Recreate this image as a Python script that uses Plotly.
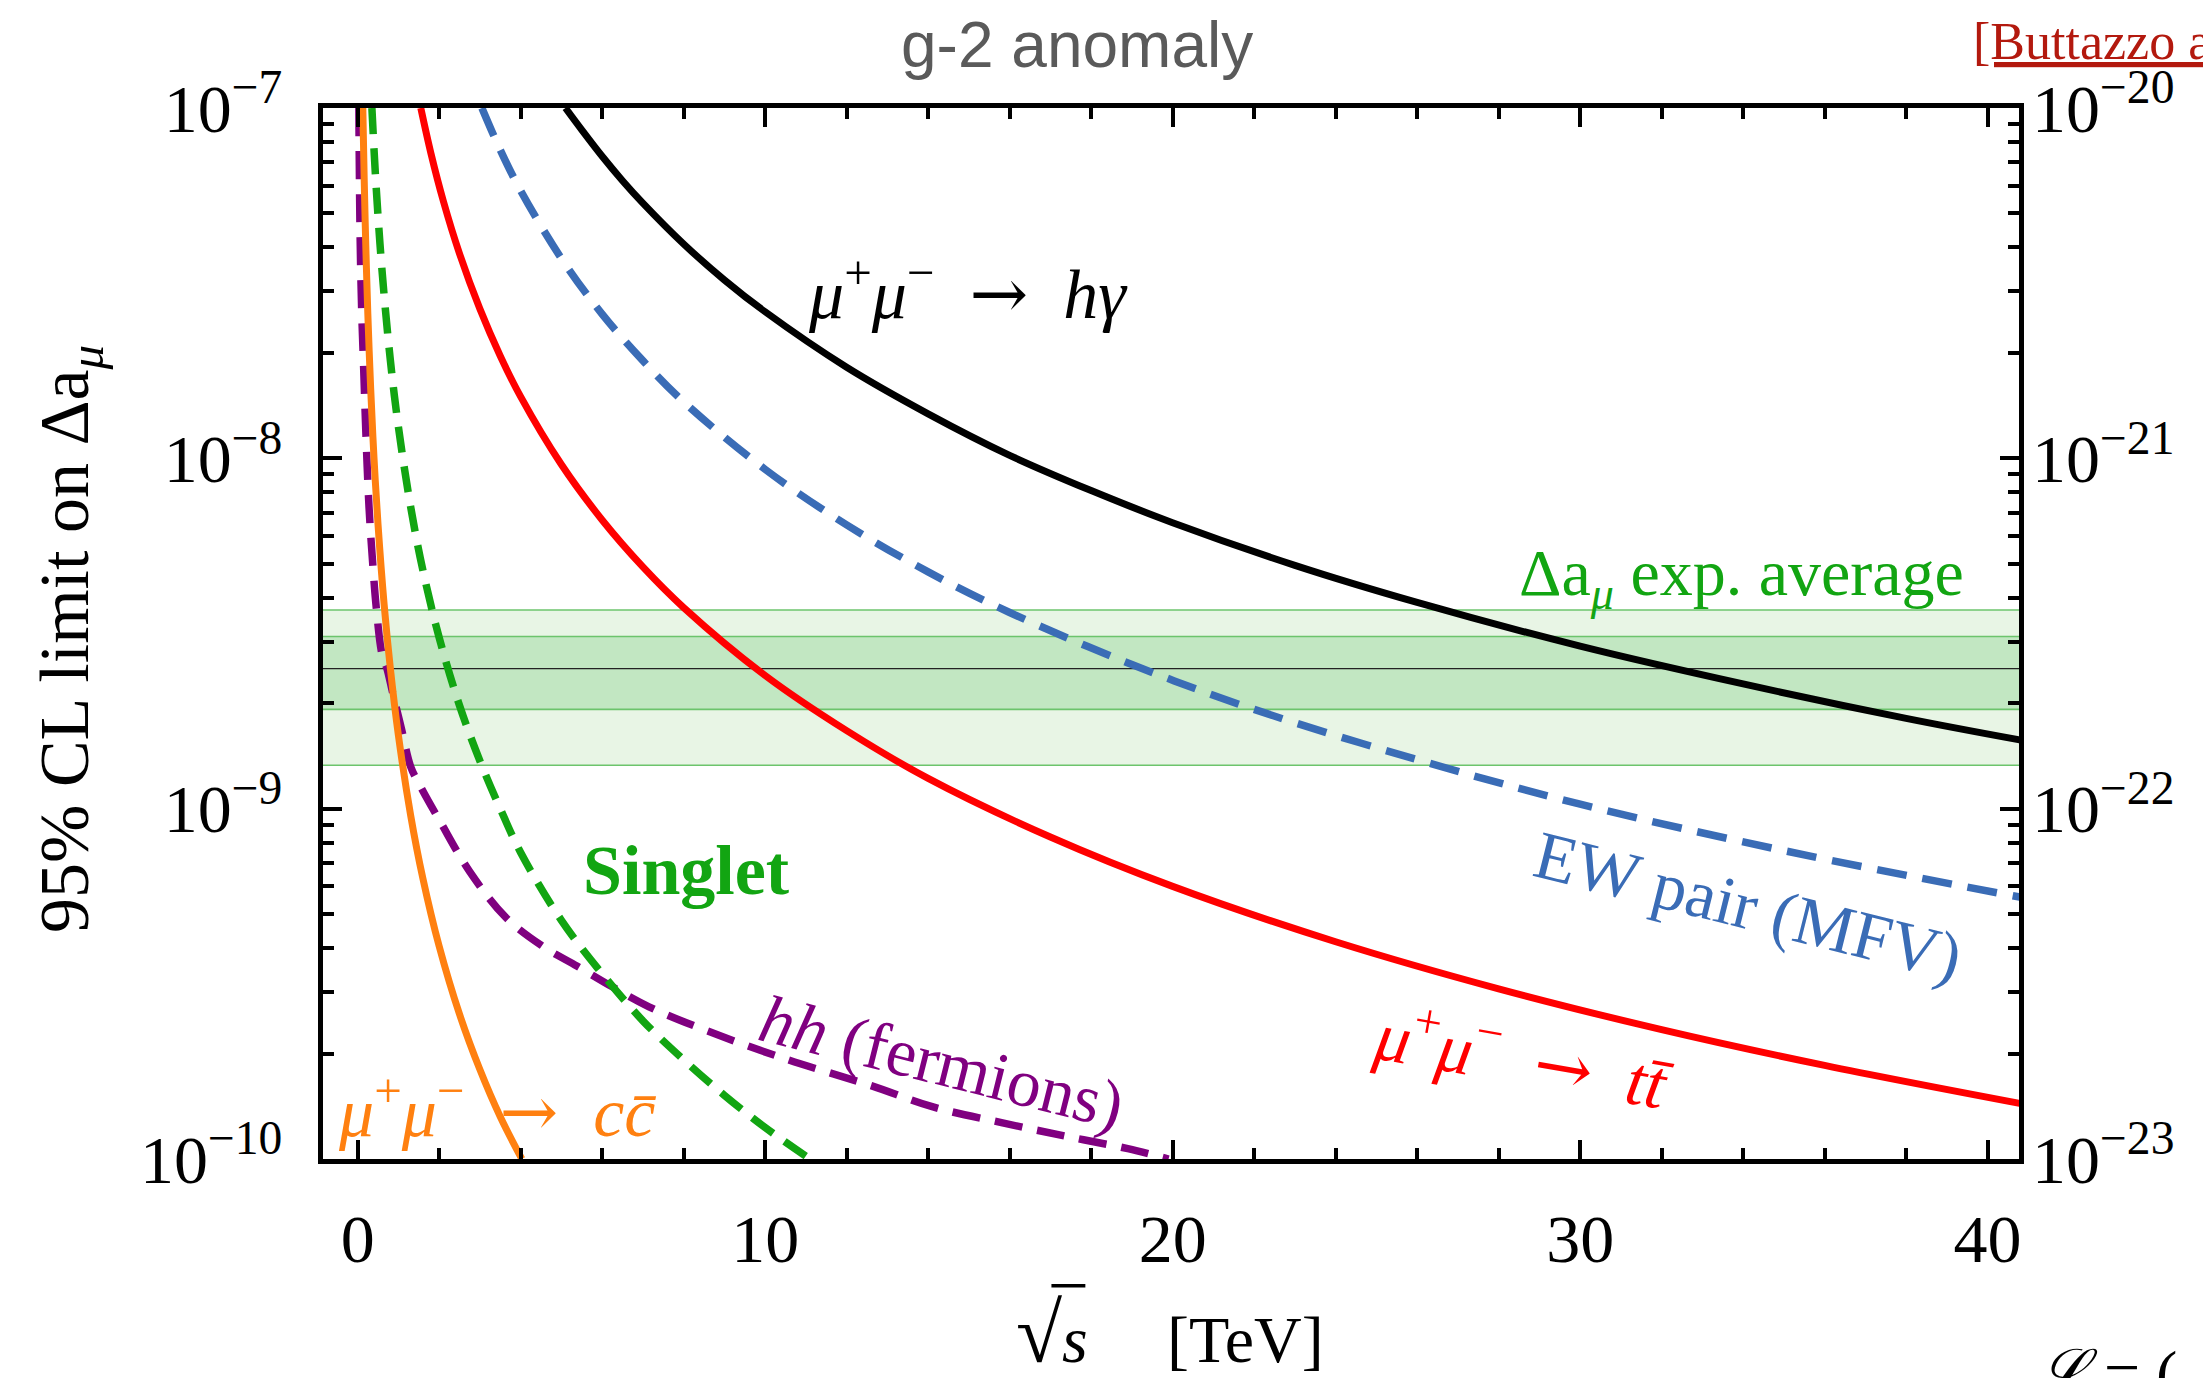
import plotly.graph_objects as go

# ---------------- data ----------------
# sqrt(s) [TeV] and 95% CL limit on Delta a_mu
hgam_x = [5.1, 5.5, 6, 6.5, 7, 8, 9, 10, 12, 14, 16, 18, 20, 23, 26, 30, 34, 38, 40.8]
hgam_y = [1.0e-7, 8.66e-8, 7.28e-8, 6.2e-8, 5.35e-8, 4.09e-8, 3.23e-8, 2.62e-8, 1.82e-8,
          1.34e-8, 1.02e-8, 8.09e-9, 6.55e-9, 4.95e-9, 3.88e-9, 2.91e-9, 2.27e-9, 1.81e-9, 1.57e-9]

tt_x = [1.55, 1.8, 2.1, 2.5, 3, 3.5, 4, 5, 6, 7, 8, 10, 12, 14, 17, 20, 24, 28, 32, 36, 40.8]
tt_y = [1.0e-7, 7.41e-8, 5.44e-8, 3.84e-8, 2.67e-8, 1.96e-8, 1.5e-8, 9.6e-9, 6.67e-9, 4.9e-9,
        3.75e-9, 2.4e-9, 1.67e-9, 1.22e-9, 8.3e-10, 6.0e-10, 4.17e-10, 3.06e-10, 2.34e-10,
        1.85e-10, 1.44e-10]

ew_x = [3.05, 3.5, 4, 5, 6, 7, 8, 10, 12, 14, 16, 19, 22, 26, 30, 35, 40.8]
ew_y = [1.0e-7, 7.59e-8, 5.81e-8, 3.72e-8, 2.58e-8, 1.9e-8, 1.45e-8, 9.3e-9, 6.46e-9, 4.74e-9,
        3.63e-9, 2.58e-9, 1.92e-9, 1.38e-9, 1.03e-9, 7.59e-10, 5.59e-10]

singlet_x = [0.35, 0.45, 0.6, 0.8, 1.0, 1.3, 1.6, 2.0, 2.5, 3, 3.5, 4, 5, 6, 7, 8, 9, 10, 11.1]
singlet_y = [1.0e-7, 6.07e-8, 3.42e-8, 1.92e-8, 1.23e-8, 7.28e-9, 4.8e-9, 3.08e-9, 1.97e-9,
             1.37e-9, 1.0e-9, 7.5e-10, 4.8e-10, 3.38e-10, 2.48e-10, 1.92e-10, 1.52e-10, 1.23e-10, 1.0e-10]

cc_x = [0.127, 0.16, 0.2, 0.25, 0.32, 0.4, 0.5, 0.65, 0.8, 1.0, 1.3, 1.6, 2.0, 2.5, 3.0, 3.5, 4.03]
cc_y = [1.0e-7, 6.33e-8, 4.05e-8, 2.59e-8, 1.58e-8, 1.01e-8, 6.48e-9, 3.83e-9, 2.53e-9, 1.62e-9,
        9.59e-10, 6.33e-10, 4.05e-10, 2.59e-10, 1.8e-10, 1.32e-10, 1.0e-10]

hh_x = [0.03, 0.06, 0.10, 0.15, 0.20, 0.28, 0.37, 0.46, 0.60, 0.72, 0.86, 1.07, 1.30, 1.52, 2.04,
        2.75, 3.63, 4.51, 5.39, 6.27, 7.15, 8.5, 10.5, 12.6, 14.1, 15.8, 17.4, 18.9, 19.9]
hh_y = [1.0e-7, 4.37e-8, 2.63e-8, 1.78e-8, 1.2e-8, 7.24e-9, 5.01e-9, 3.72e-9, 2.75e-9, 2.51e-9,
        2.14e-9, 1.7e-9, 1.32e-9, 1.17e-9, 9.12e-10, 6.61e-10, 4.9e-10, 4.07e-10, 3.55e-10,
        3.09e-10, 2.72e-10, 2.34e-10, 1.93e-10, 1.62e-10, 1.41e-10, 1.27e-10, 1.16e-10, 1.07e-10, 1.0e-10]

# Delta a_mu experimental average: central value, 1 sigma and 2 sigma bands
damu_center = 2.51e-9
damu_1sigma = [1.92e-9, 3.10e-9]
damu_2sigma = [1.33e-9, 3.69e-9]

x_range = [-0.85, 40.77]
left_tickvals = [1e-10, 1e-9, 1e-8, 1e-7]
left_ticktext = ["10<sup>\u221210</sup>", "10<sup>\u22129</sup>", "10<sup>\u22128</sup>", "10<sup>\u22127</sup>"]
right_tickvals = [1e-23, 1e-22, 1e-21, 1e-20]
right_ticktext = ["10<sup>\u221223</sup>", "10<sup>\u221222</sup>", "10<sup>\u221221</sup>", "10<sup>\u221220</sup>"]
x_tickvals = [0, 10, 20, 30, 40]

# ---------------- figure ----------------
SERIF = "Liberation Serif"
fig = go.Figure()

def band(lo, hi, color):
    fig.add_trace(go.Scatter(
        x=[x_range[0], x_range[1], x_range[1], x_range[0], x_range[0]],
        y=[lo, lo, hi, hi, lo], mode="lines", fill="toself", fillcolor=color,
        line=dict(width=0), hoverinfo="skip", showlegend=False))

band(damu_2sigma[0], damu_2sigma[1], "#e8f5e5")
band(damu_1sigma[0], damu_1sigma[1], "#c2e7c2")
for v in damu_2sigma + damu_1sigma:
    fig.add_trace(go.Scatter(x=x_range, y=[v, v], mode="lines",
                             line=dict(color="#6cc46c", width=1.6), showlegend=False, hoverinfo="skip"))
fig.add_trace(go.Scatter(x=x_range, y=[damu_center, damu_center], mode="lines",
                         line=dict(color="#222222", width=1.3), showlegend=False, hoverinfo="skip"))

def curve(x, y, color, dash="solid", width=7):
    fig.add_trace(go.Scatter(x=x, y=y, mode="lines", line=dict(color=color, width=width, dash=dash, shape="spline"),
                             showlegend=False, hoverinfo="skip"))

curve(hh_x, hh_y, "#800080", dash="28px,15px", width=7.5)
curve(singlet_x, singlet_y, "#12a512", dash="26px,14px", width=7.5)
curve(cc_x, cc_y, "#ff8010")
curve(tt_x, tt_y, "#ff0000")
curve(ew_x, ew_y, "#3a6cb6", dash="30px,16px", width=7.5)
curve(hgam_x, hgam_y, "#000000")

# dummy trace for the secondary (top / right) axes
fig.add_trace(go.Scatter(x=[None], y=[None], xaxis="x2", yaxis="y2", showlegend=False, hoverinfo="skip"))

tickfont = dict(family=SERIF, size=68, color="black")
TW = 3.5
fig.update_layout(
    width=2203, height=1378,
    margin=dict(l=323, r=184, t=108, b=219, autoexpand=False),
    paper_bgcolor="white", plot_bgcolor="white", showlegend=False,
    xaxis=dict(range=x_range, showgrid=False, zeroline=False, showline=True, linewidth=5, linecolor="black",
               mirror=True, ticks="inside", ticklen=19, tickwidth=TW, tickcolor="black",
               tickmode="array", tickvals=x_tickvals, ticktext=[str(v) for v in x_tickvals],
               tickfont=tickfont, ticklabelstandoff=16,
               minor=dict(ticks="inside", ticklen=11, tickwidth=TW, tickcolor="black", dtick=2, tick0=0, showgrid=False)),
    xaxis2=dict(range=x_range, overlaying="x", side="top", showgrid=False, zeroline=False, showline=False,
                ticks="inside", ticklen=19, tickwidth=TW, tickcolor="black", showticklabels=False,
                tickmode="array", tickvals=x_tickvals,
                minor=dict(ticks="inside", ticklen=11, tickwidth=TW, tickcolor="black", dtick=2, tick0=0, showgrid=False)),
    yaxis=dict(type="log", range=[-10, -7], showgrid=False, zeroline=False, showline=True, linewidth=5,
               linecolor="black", mirror=True, ticks="inside", ticklen=19, tickwidth=TW, tickcolor="black",
               tickmode="array", tickvals=left_tickvals, ticktext=left_ticktext, tickfont=tickfont,
               ticklabelstandoff=22,
               minor=dict(ticks="inside", ticklen=11, tickwidth=TW, tickcolor="black", tickmode="array",
                          tickvals=[m * 10.0 ** e for e in (-10, -9, -8) for m in range(2, 10)], showgrid=False)),
    yaxis2=dict(type="log", range=[-23, -20], overlaying="y", side="right", showgrid=False, zeroline=False,
                showline=False, ticks="inside", ticklen=19, tickwidth=TW, tickcolor="black",
                tickmode="array", tickvals=right_tickvals, ticktext=right_ticktext, tickfont=tickfont,
                ticklabelstandoff=12,
                minor=dict(ticks="inside", ticklen=11, tickwidth=TW, tickcolor="black", tickmode="array",
                           tickvals=[m * 10.0 ** e for e in (-23, -22, -21) for m in range(2, 10)], showgrid=False)),
)

def label(text, x, ly, color, size=66, angle=0, xanchor="center", bold=False):
    fig.add_annotation(x=x, y=ly, xref="x", yref="y", text=text, showarrow=False, textangle=angle,
                       xanchor=xanchor, yanchor="middle",
                       font=dict(family=SERIF, size=size, color=color, weight="bold" if bold else "normal"))

arrow = "\u2002<span style=\"font-family:DejaVu Serif\">\u2192</span>\u2002"
mumu = "<i>\u03bc</i><sup>+</sup><i>\u03bc</i><sup>\u2212</sup>" + arrow
label(mumu + "<i>h\u03b3</i>", 14.98, -7.519, "#000000", size=70)
label("\u0394a<sub><i>\u03bc</i></sub> exp. average", 39.47, -8.34, "#12a512", size=66, xanchor="right")
label("Singlet", 8.05, -9.177, "#12a512", size=70, bold=True)
label("EW pair (MFV)", 34.14, -9.277, "#3a6cb6", size=68, angle=14)
label(mumu + "<i>tt\u0304</i>", 28.63, -9.705, "#ff0000", size=70, angle=10)
label("<i>hh</i> (fermions)", 14.34, -9.722, "#800080", size=68, angle=14)
label(mumu + "<i>cc\u0304</i>", 3.43, -9.853, "#ff8010", size=70)

# titles and page texts
fig.add_annotation(x=0.4446, y=1.06, xref="paper", yref="paper", text="g-2 anomaly", showarrow=False,
                   xanchor="center", yanchor="middle", font=dict(family="Liberation Sans", size=64, color="#5a5a5a"))
fig.add_annotation(x=-0.1492, y=0.4948, xref="paper", yref="paper",
                   text="95% CL limit on \u0394a<sub><i>\u03bc</i></sub>", textangle=-90, showarrow=False,
                   xanchor="center", yanchor="middle", font=dict(family=SERIF, size=70, color="black"))
fig.add_annotation(x=0.4995, y=-0.166, xref="paper", yref="paper",
                   text="<span style=\"font-size:84px\">\u221a</span><i>s</i>\u2003\u2009[TeV]",
                   showarrow=False, xanchor="center", yanchor="middle",
                   font=dict(family=SERIF, size=66, color="black"))
# vinculum of the square root
fig.add_shape(type="line", xref="paper", yref="paper", x0=0.4295, x1=0.4495, y0=-0.1205, y1=-0.1205,
              line=dict(color="black", width=3.5))
fig.add_annotation(x=0.9717, y=1.0628, xref="paper", yref="paper", text="<u>[Buttazzo a</u>",
                   showarrow=False, xanchor="left", yanchor="middle",
                   font=dict(family=SERIF, size=52, color="#b3190e"))
fig.add_annotation(x=1.0, y=-0.168, xref="paper", yref="paper", text="<i>\u2112</i> = (",
                   showarrow=False, xanchor="left", yanchor="top",
                   font=dict(family=SERIF, size=64, color="black"), xshift=14)

fig.write_html("out.html")
